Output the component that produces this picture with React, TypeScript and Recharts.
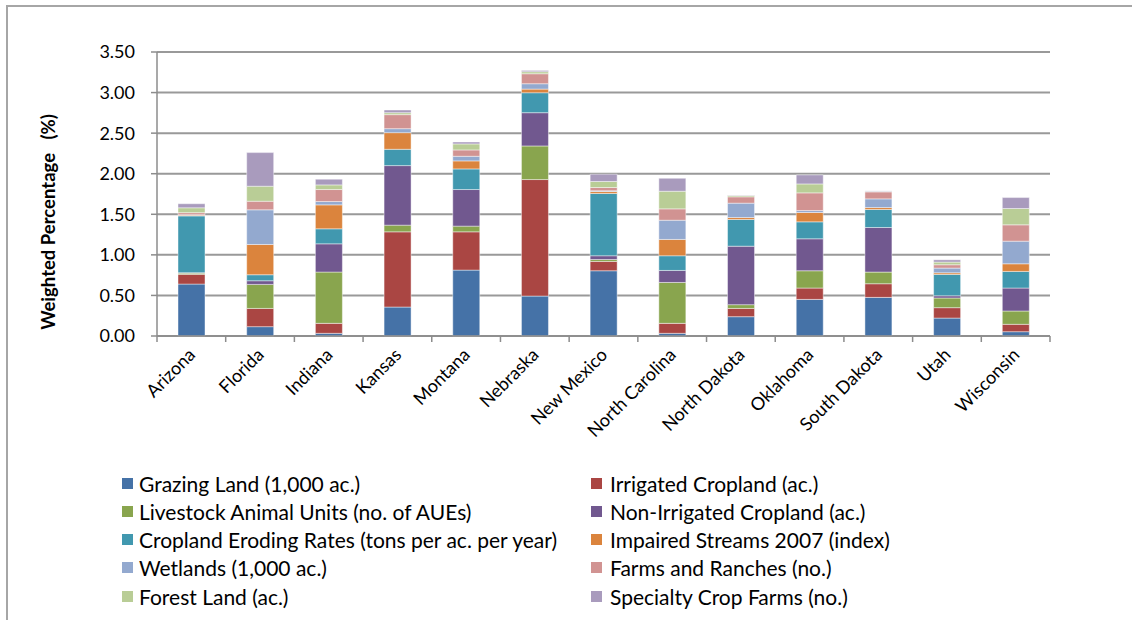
import React from 'react';
import { BarChart, Bar, XAxis, YAxis, CartesianGrid } from 'recharts';

const FONT = 'Lato, "Open Sans", sans-serif';

const states = [
  'Arizona',
  'Florida',
  'Indiana',
  'Kansas',
  'Montana',
  'Nebraska',
  'New Mexico',
  'North Carolina',
  'North Dakota',
  'Oklahoma',
  'South Dakota',
  'Utah',
  'Wisconsin',
];

// weighted percentage contributed by each factor, one value per state
const grazing = [0.64, 0.115, 0.033, 0.357, 0.812, 0.492, 0.804, 0.033, 0.238, 0.451, 0.476, 0.221, 0.053];
const irrigated = [0.12, 0.225, 0.123, 0.927, 0.472, 1.436, 0.115, 0.123, 0.102, 0.14, 0.168, 0.128, 0.091];
const livestock = [0.015, 0.296, 0.632, 0.082, 0.07, 0.414, 0.024, 0.504, 0.046, 0.213, 0.144, 0.119, 0.164];
const nonIrrigated = [0.005, 0.045, 0.348, 0.734, 0.451, 0.41, 0.046, 0.148, 0.721, 0.394, 0.549, 0.028, 0.283];
const eroding = [0.7, 0.074, 0.185, 0.201, 0.254, 0.246, 0.767, 0.181, 0.329, 0.209, 0.222, 0.263, 0.205];
const impaired = [0.01, 0.373, 0.295, 0.205, 0.099, 0.045, 0.024, 0.201, 0.024, 0.115, 0.024, 0.02, 0.094];
const wetlands = [0.005, 0.427, 0.041, 0.049, 0.057, 0.066, 0.01, 0.237, 0.177, 0.024, 0.107, 0.058, 0.279];
const farms = [0.025, 0.106, 0.148, 0.173, 0.078, 0.123, 0.04, 0.14, 0.078, 0.218, 0.086, 0.041, 0.201];
const forest = [0.06, 0.185, 0.057, 0.024, 0.074, 0.025, 0.074, 0.217, 0.016, 0.11, 0.006, 0.033, 0.201];
const specialty = [0.05, 0.414, 0.07, 0.033, 0.024, 0.016, 0.09, 0.16, 0.005, 0.111, 0.006, 0.028, 0.135];

const yTicks = [0, 0.5, 1, 1.5, 2, 2.5, 3, 3.5];

const series = [
  { key: 'grazing', name: 'Grazing Land (1,000 ac.)', color: '#4572A7', values: grazing },
  { key: 'irrigated', name: 'Irrigated Cropland (ac.)', color: '#AA4643', values: irrigated },
  { key: 'livestock', name: 'Livestock Animal Units (no. of AUEs)', color: '#89A54E', values: livestock },
  { key: 'nonIrrigated', name: 'Non-Irrigated Cropland (ac.)', color: '#71588F', values: nonIrrigated },
  { key: 'eroding', name: 'Cropland Eroding Rates (tons per ac. per year)', color: '#4198AF', values: eroding },
  { key: 'impaired', name: 'Impaired Streams 2007 (index)', color: '#DB843D', values: impaired },
  { key: 'wetlands', name: 'Wetlands (1,000 ac.)', color: '#93A9CF', values: wetlands },
  { key: 'farms', name: 'Farms and Ranches (no.)', color: '#D19392', values: farms },
  { key: 'forest', name: 'Forest Land (ac.)', color: '#B9CD96', values: forest },
  { key: 'specialty', name: 'Specialty Crop Farms (no.)', color: '#A99BBD', values: specialty },
];

const data = states.map((state, i) => {
  const row: Record<string, string | number> = { state };
  series.forEach((s) => {
    row[s.key] = s.values[i];
  });
  return row;
});

const AXIS_COLOR = '#8c8c8c';

// category label rotated 45deg, with Excel-style tick marks on the band edges
const StateTick = (props: any) => {
  const { x, y, payload, index, width, visibleTicksCount } = props;
  const half = payload?.offset || width / visibleTicksCount / 2;
  const tx = x + 5;
  const ty = y + 20;
  return (
    <g>
      <line x1={x - half} y1={y} x2={x - half} y2={y + 6} stroke={AXIS_COLOR} strokeWidth={1.5} />
      {index === visibleTicksCount - 1 && (
        <line x1={x + half} y1={y} x2={x + half} y2={y + 6} stroke={AXIS_COLOR} strokeWidth={1.5} />
      )}
      <text
        x={tx}
        y={ty}
        transform={`rotate(-45 ${tx} ${ty})`}
        textAnchor="end"
        fontFamily={FONT}
        fontSize={18}
        fill="#000"
      >
        {payload.value}
      </text>
    </g>
  );
};

const YTitle = () => (
  <text
    x={55}
    y={222}
    transform="rotate(-90 55 222)"
    textAnchor="middle"
    fontFamily={FONT}
    fontSize={18.5}
    fontWeight="bold"
    fill="#000"
    style={{ whiteSpace: 'pre' }}
  >
    {'Weighted Percentage   (%)'}
  </text>
);

const LegendBlock = () => (
  <div style={{ position: 'absolute', left: 0, top: 469, width: 1132, fontFamily: FONT, fontSize: 21 }}>
    {series.map((s, i) => {
      const col = i % 2;
      const row = Math.floor(i / 2);
      return (
        <div
          key={s.key}
          style={{
            position: 'absolute',
            left: col === 0 ? 122 : 591,
            top: row * 28.3,
            height: 28,
            display: 'flex',
            alignItems: 'center',
            whiteSpace: 'nowrap',
            color: '#000',
          }}
        >
          <span style={{ width: 11, height: 11, background: s.color, marginRight: col === 0 ? 6 : 8 }} />
          <span>{s.name}</span>
        </div>
      );
    })}
  </div>
);

export default function App() {
  return (
    <div style={{ position: 'absolute', left: 0, top: 0, width: 1132, height: 620, background: '#fff', overflow: 'hidden' }}>
      <div
        style={{
          position: 'absolute',
          left: 6,
          top: 5,
          width: 1200,
          height: 700,
          border: '2px solid #a6a6a6',
        }}
      />
      <div style={{ position: 'absolute', left: 0, top: 0 }}>
        <BarChart
          width={1132}
          height={620}
          data={data}
          margin={{ top: 52, right: 82, bottom: 254, left: 0 }}
          barSize={27}
        >
          <CartesianGrid vertical={false} stroke="#999" strokeWidth={2} />
          <XAxis
            dataKey="state"
            interval={0}
            height={30}
            tickLine={false}
            tickSize={0}
            tickMargin={0}
            tick={<StateTick />}
            axisLine={{ stroke: AXIS_COLOR, strokeWidth: 1.5 }}
          />
          <YAxis
            width={157}
            domain={[0, 3.5]}
            ticks={yTicks}
            interval={0}
            tickFormatter={(v: number) => v.toFixed(2)}
            tickSize={6}
            tickMargin={16}
            tick={{ fontFamily: FONT, fontSize: 18, fill: '#000' }}
            tickLine={{ stroke: AXIS_COLOR, strokeWidth: 1.5 }}
            axisLine={{ stroke: AXIS_COLOR, strokeWidth: 1.5 }}
            label={<YTitle />}
          />
          {series.map((s) => (
            <Bar
              key={s.key}
              dataKey={s.key}
              name={s.name}
              stackId="total"
              fill={s.color}
              stroke="#ffffff"
              strokeOpacity={0.55}
              strokeWidth={0.8}
              isAnimationActive={false}
            />
          ))}
        </BarChart>
      </div>
      <LegendBlock />
    </div>
  );
}
